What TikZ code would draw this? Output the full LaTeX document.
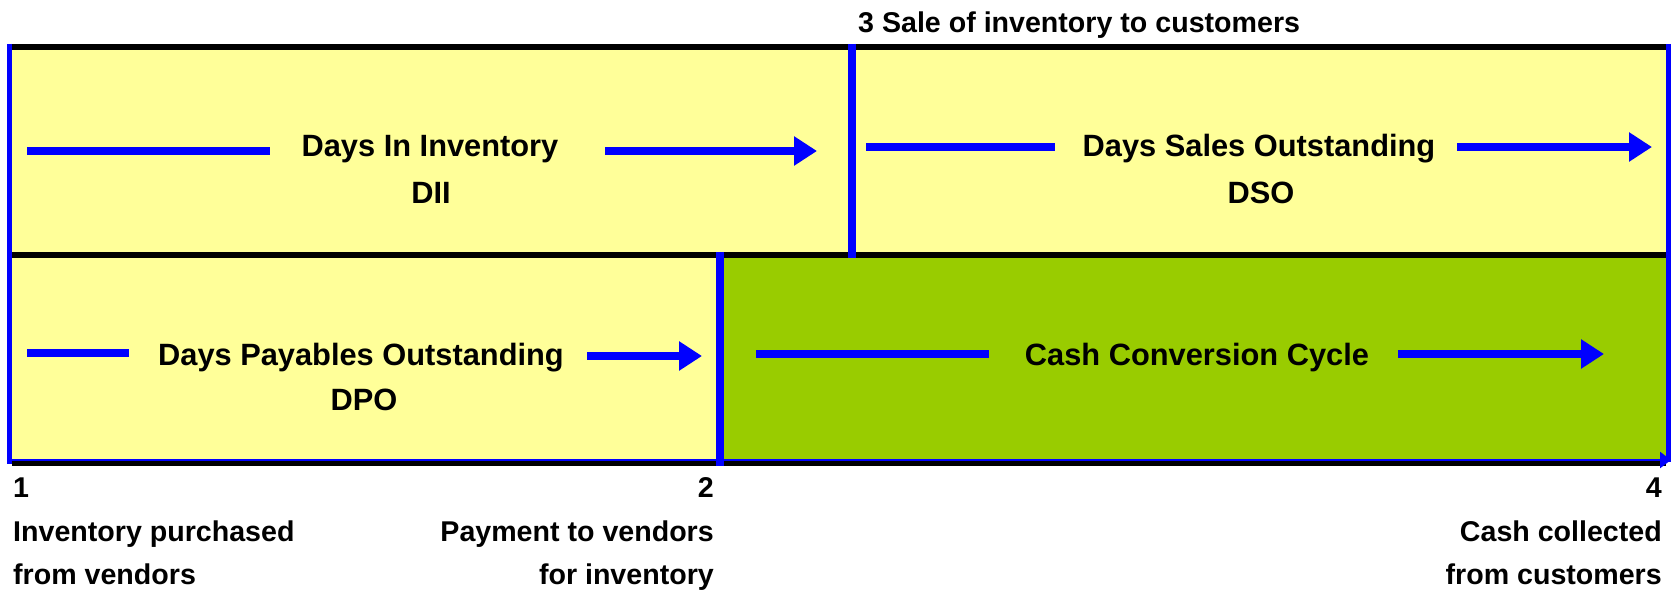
\documentclass[tikz,border=0pt]{standalone}
\usepackage{fontspec}
\setmainfont{Liberation Sans}
\usetikzlibrary{arrows.meta}
\definecolor{paleyellow}{HTML}{FFFF99}
\definecolor{cccgreen}{HTML}{99CC00}
\definecolor{flowblue}{HTML}{0000FF}
\begin{document}
\begin{tikzpicture}[x=1pt,y=-1pt,
  frameline/.style={line width=6pt, black},
  bluerule/.style={flowblue, line width=5pt},
  divider/.style={flowblue, line width=8pt},
  flowline/.style={flowblue, line width=8pt},
  flowarrow/.style={flowblue, line width=8pt, -{Triangle[length=23pt,width=28pt]}},
  biglabel/.style={font=\fontsize{30.8}{36}\selectfont\bfseries, inner sep=0pt, anchor=base},
  smalllabel/.style={font=\fontsize{28.6}{34}\selectfont\bfseries, inner sep=0pt}
]
\useasboundingbox (0,0) rectangle (1680,591);

% panels
\fill[paleyellow] (12,50) rectangle (1666,252);
\fill[paleyellow] (12,258) rectangle (716,459);
\fill[cccgreen] (724,258) rectangle (1666,459);

% horizontal frame lines
\draw[frameline] (7,47) -- (1666,47);
\draw[frameline] (12,255) -- (1666,255);
\draw[line width=5pt, black] (12,463.5) -- (1666,463.5);

% vertical rules
\draw[bluerule] (9.5,44) -- (9.5,464);
\draw[bluerule] (1668.5,44) -- (1668.5,462);
\draw[divider] (852,44) -- (852,258);
\draw[divider] (720,252) -- (720,466);

% time axis
\coordinate (axisL) at (7,460);
\coordinate (axisR) at (1671,460);
\draw[flowblue, line width=2.5pt, -{Triangle[length=11pt,width=16pt]}] (axisL) -- (axisR);

% days in inventory
\node[biglabel] (dii) at (430,157) {Days In Inventory};
\node[biglabel] (diiabbr) at (431,203) {DII};
\coordinate (dii1) at (27,151);
\coordinate (dii2) at (270,151);
\coordinate (dii3) at (605,151);
\coordinate (dii4) at (817,151);
\draw[flowline] (dii1) -- (dii2);
\draw[flowarrow] (dii3) -- (dii4);

% days sales outstanding
\node[biglabel] (dso) at (1259,157) {Days Sales Outstanding};
\node[biglabel] (dsoabbr) at (1261,203) {DSO};
\coordinate (dso1) at (866,147);
\coordinate (dso2) at (1055,147);
\coordinate (dso3) at (1457,147);
\coordinate (dso4) at (1652,147);
\draw[flowline] (dso1) -- (dso2);
\draw[flowarrow] (dso3) -- (dso4);

% days payables outstanding
\node[biglabel] (dpo) at (361,365) {Days Payables Outstanding};
\node[biglabel] (dpoabbr) at (364,410) {DPO};
\coordinate (dpo1) at (27,353);
\coordinate (dpo2) at (129,353);
\coordinate (dpo3) at (587,356);
\coordinate (dpo4) at (702,356);
\draw[flowline] (dpo1) -- (dpo2);
\draw[flowarrow] (dpo3) -- (dpo4);

% cash conversion cycle
\node[biglabel] (ccc) at (1197,365) {Cash Conversion Cycle};
\coordinate (ccc1) at (756,354);
\coordinate (ccc2) at (989,354);
\coordinate (ccc3) at (1398,354);
\coordinate (ccc4) at (1604,354);
\draw[flowline] (ccc1) -- (ccc2);
\draw[flowarrow] (ccc3) -- (ccc4);

% event labels
\node[smalllabel, anchor=base west] (ev3) at (858,33) {3 Sale of inventory to customers};

\node[smalllabel, anchor=base west] (ev1) at (13,497) {1};
\node[smalllabel, anchor=base west] (ev1a) at (13,541) {Inventory purchased};
\node[smalllabel, anchor=base west] (ev1b) at (13,584) {from vendors};

\node[smalllabel, anchor=base east] (ev2) at (714,497) {2};
\node[smalllabel, anchor=base east] (ev2a) at (714,541) {Payment to vendors};
\node[smalllabel, anchor=base east] (ev2b) at (714,584) {for inventory};

\node[smalllabel, anchor=base east] (ev4) at (1662,497) {4};
\node[smalllabel, anchor=base east] (ev4a) at (1662,541) {Cash collected};
\node[smalllabel, anchor=base east] (ev4b) at (1662,584) {from customers};
\end{tikzpicture}
\end{document}
